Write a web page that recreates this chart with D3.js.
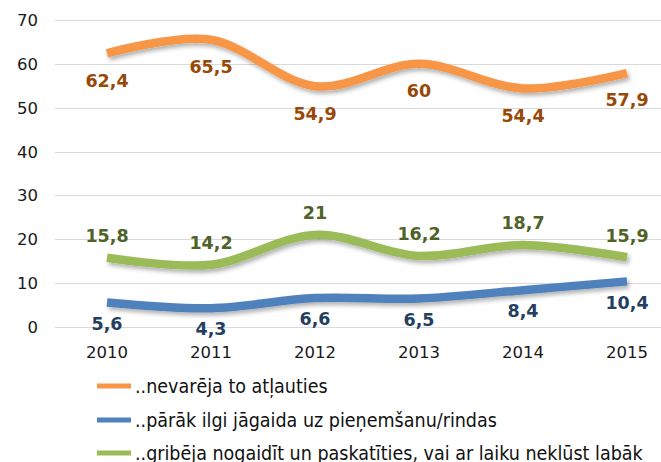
<!DOCTYPE html>
<html>
<head>
<meta charset="utf-8">
<script src="https://cdn.jsdelivr.net/npm/d3@7"></script>
<style>
  html, body { margin: 0; padding: 0; background: #fff; }
  svg { display: block; }
</style>
</head>
<body>
<script>
const years = ["2010", "2011", "2012", "2013", "2014", "2015"];
const yTicks = [0, 10, 20, 30, 40, 50, 60, 70];

const cantAfford = [62.4, 65.5, 54.9, 60, 54.4, 57.9];
const waitTooLong = [5.6, 4.3, 6.6, 6.5, 8.4, 10.4];
const waitAndSee = [15.8, 14.2, 21, 16.2, 18.7, 15.9];

const seriesNames = [
  "..nevarēja to atļauties",
  "..pārāk ilgi jāgaida uz pieņemšanu/rindas",
  "..gribēja nogaidīt un paskatīties, vai ar laiku nekļūst labāk"
];

const width = 661;
const height = 462;

const series = [
  { name: seriesNames[0], values: cantAfford, line: "#f79646", label: "#984807", dy: 27 },
  { name: seriesNames[1], values: waitTooLong, line: "#4f81bd", label: "#243f60", dy: 21 },
  { name: seriesNames[2], values: waitAndSee, line: "#9bbb59", label: "#4f6228", dy: -22 }
];

const svg = d3.select("body").append("svg")
  .attr("width", width)
  .attr("height", height);

const defs = svg.append("defs");
const shadow = defs.append("filter")
  .attr("id", "shadow")
  .attr("x", "-10%").attr("y", "-50%")
  .attr("width", "120%").attr("height", "200%");
shadow.append("feDropShadow")
  .attr("dx", 2).attr("dy", 3)
  .attr("stdDeviation", 2)
  .attr("flood-color", "#000")
  .attr("flood-opacity", 0.3);

// plot runs off the right edge, like the cropped original
const x = d3.scaleBand().domain(years).range([55, 679]);
const y = d3.scaleLinear().domain([0, 70]).range([327, 20]);
const cx = (d) => x(d) + x.bandwidth() / 2;

// gridlines
svg.append("g")
  .selectAll("line")
  .data(yTicks)
  .join("line")
  .attr("x1", 55)
  .attr("x2", width)
  .attr("y1", (d) => Math.round(y(d)) + 0.5)
  .attr("y2", (d) => Math.round(y(d)) + 0.5)
  .attr("stroke", "#d9d9d9")
  .attr("stroke-width", 1);

// y labels
svg.append("g")
  .selectAll("text")
  .data(yTicks)
  .join("text")
  .attr("x", 38)
  .attr("y", (d) => y(d))
  .attr("dy", "0.36em")
  .attr("text-anchor", "end")
  .attr("font-family", "DejaVu Sans, sans-serif")
  .attr("font-size", "16.5px")
  .attr("fill", "#1a1a1a")
  .text((d) => d);

// x labels
svg.append("g")
  .selectAll("text")
  .data(years)
  .join("text")
  .attr("x", cx)
  .attr("y", 358)
  .attr("text-anchor", "middle")
  .attr("font-family", "DejaVu Sans, sans-serif")
  .attr("font-size", "16.5px")
  .attr("fill", "#1a1a1a")
  .text((d) => d);

const line = d3.line()
  .x((d, i) => cx(years[i]))
  .y((d) => y(d))
  .curve(d3.curveCardinal.tension(0));

series.forEach((s) => {
  svg.append("path")
    .datum(s.values)
    .attr("d", line)
    .attr("fill", "none")
    .attr("stroke", s.line)
    .attr("stroke-width", 8.5)
    .attr("stroke-linecap", "butt")
    .attr("filter", "url(#shadow)");
});

series.forEach((s) => {
  svg.append("g")
    .selectAll("text")
    .data(s.values)
    .join("text")
    .attr("x", (d, i) => cx(years[i]))
    .attr("y", (d) => y(d) + s.dy)
    .attr("dy", "0.36em")
    .attr("text-anchor", "middle")
    .attr("font-family", "DejaVu Sans, sans-serif")
    .attr("font-weight", "bold")
    .attr("font-size", "17.5px")
    .attr("fill", s.label)
    .text((d) => String(d).replace(".", ","));
});

// legend
const legendY = [386, 420, 453];
const legend = svg.append("g")
  .selectAll("g")
  .data(series)
  .join("g")
  .attr("transform", (d, i) => `translate(0,${legendY[i]})`);

legend.append("line")
  .attr("x1", 97).attr("x2", 131)
  .attr("y1", 0).attr("y2", 0)
  .attr("stroke", (d) => d.line)
  .attr("stroke-width", 5);

legend.append("text")
  .attr("x", 135)
  .attr("y", 0)
  .attr("dy", "0.36em")
  .attr("font-family", "DejaVu Sans Condensed, DejaVu Sans, sans-serif")
  .attr("font-stretch", "condensed")
  .attr("font-size", "19.5px")
  .attr("fill", "#111")
  .text((d) => d.name);
</script>
</body>
</html>
